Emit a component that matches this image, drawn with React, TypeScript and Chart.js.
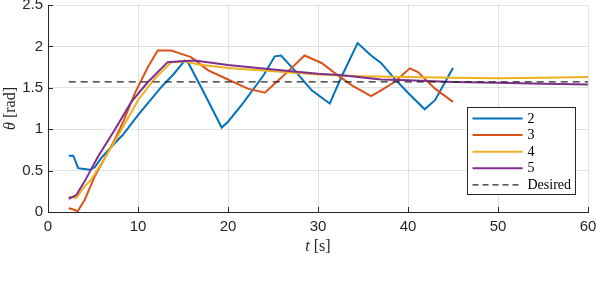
import React, { useEffect, useRef } from "react";
import { Chart, registerables } from "chart.js";
Chart.register(...registerables);

// ---- data ----
const t2 = [2.3, 2.8, 3.0, 3.35, 4.0, 4.65, 5.2, 5.9, 7.4, 8.3, 10.0, 12.6, 14.0, 15.2, 15.6, 17.0, 19.3, 20.0, 21.5, 23.0, 24.0, 25.2, 25.9, 27.4, 29.3, 31.3, 32.6, 34.4, 35.9, 37.0, 38.5, 40.0, 41.85, 43.0, 45.0];
const theta2 = [0.68, 0.68, 0.63, 0.53, 0.52, 0.51, 0.54, 0.65, 0.83, 0.93, 1.17, 1.51, 1.67, 1.83, 1.8, 1.51, 1.02, 1.09, 1.29, 1.51, 1.66, 1.88, 1.89, 1.71, 1.47, 1.31, 1.63, 2.04, 1.89, 1.8, 1.61, 1.44, 1.24, 1.35, 1.74];

const t3 = [2.3, 2.8, 3.3, 4.07, 5.19, 6.5, 7.4, 8.4, 9.63, 11.1, 12.2, 13.7, 14.8, 15.9, 17.8, 20.0, 22.2, 24.1, 25.6, 26.5, 28.5, 30.4, 32.2, 33.9, 35.9, 37.0, 38.5, 40.2, 41.1, 43.0, 45.0];
const theta3 = [0.045, 0.03, 0.01, 0.145, 0.43, 0.69, 0.87, 1.1, 1.43, 1.75, 1.95, 1.95, 1.91, 1.87, 1.71, 1.6, 1.49, 1.44, 1.59, 1.68, 1.89, 1.8, 1.65, 1.52, 1.4, 1.47, 1.57, 1.735, 1.69, 1.49, 1.33];

const t4 = [2.3, 3.15, 4.07, 4.8, 6.3, 8.15, 10.0, 11.85, 13.7, 15.2, 16.7, 20.0, 25, 30, 35, 40, 45, 50, 55, 60];
const theta4 = [0.185, 0.17, 0.31, 0.39, 0.65, 0.99, 1.35, 1.61, 1.81, 1.82, 1.78, 1.74, 1.7, 1.66, 1.64, 1.63, 1.62, 1.615, 1.62, 1.63];

const t5 = [2.3, 3.15, 4.07, 5.56, 7.4, 9.26, 11.1, 13.3, 14.8, 16.3, 20.0, 25, 30, 32.4, 37, 40, 45, 50, 55, 60];
const theta5 = [0.16, 0.205, 0.37, 0.67, 0.99, 1.33, 1.57, 1.81, 1.82, 1.83, 1.775, 1.72, 1.67, 1.655, 1.6, 1.59, 1.57, 1.56, 1.55, 1.54];

const desiredT = [2.3, 60];
const desiredTheta = [1.5708, 1.5708];

const seriesNames = ["2", "3", "4", "5", "Desired"];
const seriesColors = ["#0072BD", "#D95319", "#EDB120", "#7E2F8E", "#262626"];
const xTicks = [0, 10, 20, 30, 40, 50, 60];
const yTicks = [0, 0.5, 1, 1.5, 2, 2.5];

const pts = (t: number[], y: number[]) => t.map((x, i) => ({ x, y: y[i] }));

const AXIS = "#262626";
const GRID = "rgba(38,38,38,0.13)";
const TICK_FONT = { family: "'Liberation Sans', Arial, sans-serif", size: 15 };
const SERIF = "'Liberation Serif', 'Times New Roman', serif";

const decoPlugin = {
  id: "deco",
  afterDraw(chart: any) {
    const { ctx, chartArea: ca } = chart;
    const x = chart.scales.x;
    const y = chart.scales.y;
    ctx.save();
    // inward ticks
    ctx.strokeStyle = AXIS;
    ctx.lineWidth = 1;
    xTicks.forEach((v) => {
      const px = Math.round(x.getPixelForValue(v)) + 0.5;
      ctx.beginPath();
      ctx.moveTo(px, ca.bottom);
      ctx.lineTo(px, ca.bottom - 5);
      ctx.stroke();
    });
    yTicks.forEach((v) => {
      const py = Math.round(y.getPixelForValue(v)) + 0.5;
      ctx.beginPath();
      ctx.moveTo(ca.left, py);
      ctx.lineTo(ca.left + 5, py);
      ctx.stroke();
    });

    // x title: t [s]
    ctx.fillStyle = AXIS;
    ctx.textBaseline = "alphabetic";
    const itF = `italic 16px ${SERIF}`;
    const rF = `16px ${SERIF}`;
    ctx.font = itF;
    const wt = ctx.measureText("t").width;
    ctx.font = rF;
    const ws = ctx.measureText(" [s]").width;
    const cx = (ca.left + ca.right) / 2;
    let sx = cx - (wt + ws) / 2;
    ctx.font = itF;
    ctx.textAlign = "left";
    ctx.fillText("t", sx, 251);
    ctx.font = rF;
    ctx.fillText(" [s]", sx + wt, 251);

    // y title: θ [rad]
    ctx.save();
    ctx.translate(15, (ca.top + ca.bottom) / 2);
    ctx.rotate(-Math.PI / 2);
    ctx.font = itF;
    const wth = ctx.measureText("θ").width;
    ctx.font = rF;
    const wr = ctx.measureText(" [rad]").width;
    sx = -(wth + wr) / 2;
    ctx.font = itF;
    ctx.fillText("θ", sx, 0);
    ctx.font = rF;
    ctx.fillText(" [rad]", sx + wth, 0);
    ctx.restore();

    // legend
    const lx = ca.right - 120.5;
    const ly = 107.5;
    const lw = 108;
    const lh = 87;
    ctx.fillStyle = "#ffffff";
    ctx.fillRect(lx, ly, lw, lh);
    ctx.strokeStyle = AXIS;
    ctx.lineWidth = 1;
    ctx.strokeRect(lx, ly, lw, lh);
    ctx.font = `14px ${SERIF}`;
    ctx.textAlign = "left";
    ctx.textBaseline = "middle";
    seriesNames.forEach((name, i) => {
      const ry = ly + 11 + i * 16.6;
      ctx.strokeStyle = seriesColors[i];
      ctx.lineWidth = i < 4 ? 2 : 1.2;
      ctx.setLineDash(i < 4 ? [] : [6, 4]);
      ctx.beginPath();
      ctx.moveTo(lx + 5, ry);
      ctx.lineTo(lx + 55, ry);
      ctx.stroke();
      ctx.setLineDash([]);
      ctx.fillStyle = "#000000";
      ctx.fillText(name, lx + 60, ry + 0.5);
    });
    ctx.restore();
  },
};

export default function App() {
  const ref = useRef<HTMLCanvasElement | null>(null);
  useEffect(() => {
    if (!ref.current) return;
    const mk = (i: number, data: any[], order: number) => ({
      label: seriesNames[i],
      data,
      borderColor: seriesColors[i],
      backgroundColor: seriesColors[i],
      borderWidth: i < 4 ? 2 : 1.3,
      borderDash: i < 4 ? [] : [7, 5],
      pointRadius: 0,
      tension: 0,
      fill: false,
      order,
    });
    const chart = new Chart(ref.current, {
      type: "line",
      data: {
        datasets: [
          mk(0, pts(t2, theta2), 5),
          mk(1, pts(t3, theta3), 4),
          mk(2, pts(t4, theta4), 3),
          mk(3, pts(t5, theta5), 2),
          mk(4, pts(desiredT, desiredTheta), 1),
        ],
      },
      options: {
        animation: false,
        responsive: false,
        maintainAspectRatio: false,
        devicePixelRatio: 1,
        parsing: false,
        normalized: true,
        layout: { padding: { left: 0, right: 8, top: 5, bottom: 0 } },
        plugins: { legend: { display: false }, tooltip: { enabled: false } },
        scales: {
          x: {
            type: "linear",
            min: 0,
            max: 60,
            afterBuildTicks: (s: any) => {
              s.ticks = xTicks.map((v) => ({ value: v }));
            },
            afterFit: (s: any) => {
              s.height = 78;
              s.paddingLeft = 0;
              s.paddingRight = 0;
              s.paddingTop = 0;
              s.paddingBottom = 0;
            },
            ticks: {
              font: TICK_FONT,
              color: AXIS,
              padding: 6,
              maxRotation: 0,
              autoSkip: false,
              callback: (v: any) => String(v),
            },
            grid: { color: GRID, drawTicks: false, lineWidth: 1 },
            border: { display: true, color: AXIS, width: 1 },
          },
          y: {
            type: "linear",
            min: 0,
            max: 2.5,
            afterBuildTicks: (s: any) => {
              s.ticks = yTicks.map((v) => ({ value: v }));
            },
            afterFit: (s: any) => {
              s.width = 48;
              s.paddingLeft = 0;
              s.paddingRight = 0;
              s.paddingTop = 0;
              s.paddingBottom = 0;
            },
            ticks: {
              font: TICK_FONT,
              color: AXIS,
              padding: 5,
              autoSkip: false,
              callback: (v: any) => String(v),
            },
            grid: { color: GRID, drawTicks: false, lineWidth: 1 },
            border: { display: true, color: AXIS, width: 1 },
          },
        },
      },
      plugins: [decoPlugin],
    } as any);
    return () => chart.destroy();
  }, []);
  return (
    <div style={{ position: "absolute", left: 0, top: 0, width: 596, height: 290, background: "#fff" }}>
      <canvas ref={ref} width={596} height={290} style={{ display: "block", width: 596, height: 290 }} />
    </div>
  );
}
